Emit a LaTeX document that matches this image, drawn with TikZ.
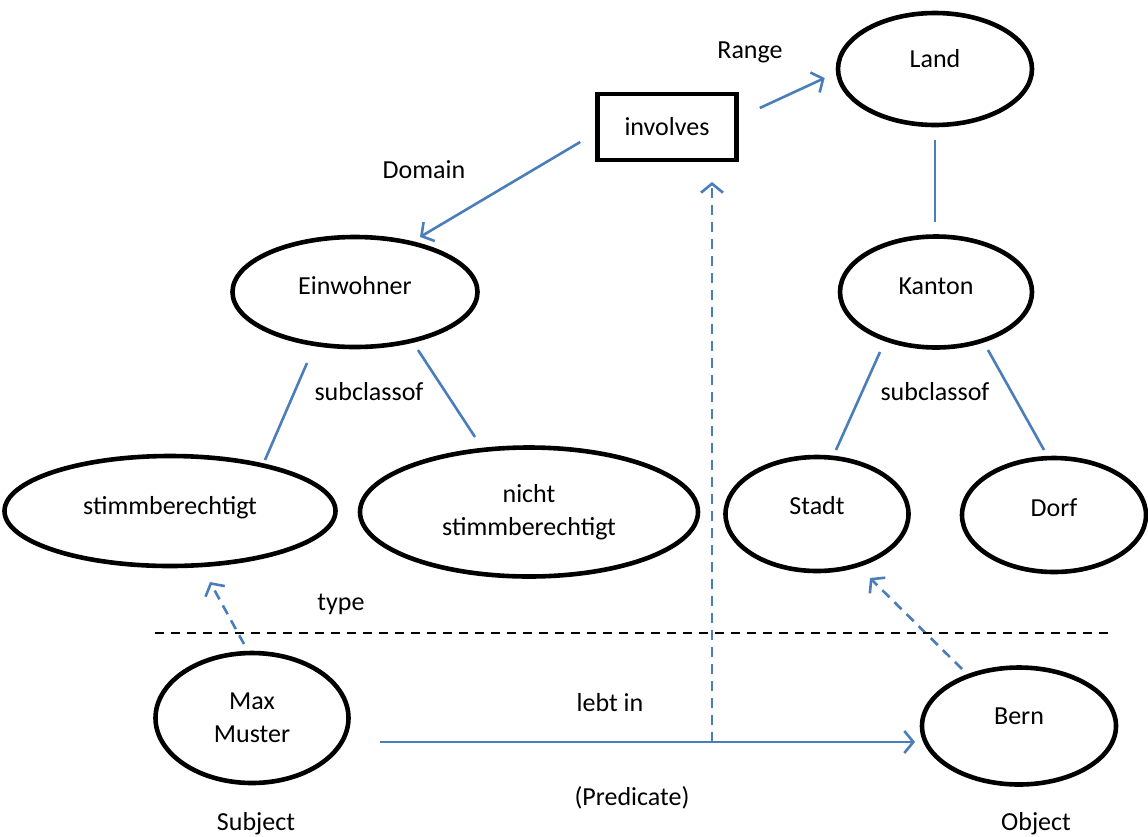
\documentclass[tikz,border=0pt]{standalone}
\usepackage{fontspec}
\setmainfont{Carlito}
\usetikzlibrary{shapes.geometric,arrows.meta}
\definecolor{lblue}{HTML}{4A7EBB}
\begin{document}
\begin{tikzpicture}[x=1pt,y=-1pt,
  every node/.style={font=\fontsize{26}{33}\selectfont},
  ell/.style={ellipse,draw=black,line width=4.6pt,inner sep=0pt,align=center},
  up/.style={text height=17pt,text depth=#1},
  lbl/.style={inner sep=0pt},
  bl/.style={draw=lblue,line width=2.6pt},
  arr/.style={bl,-{Straight Barb[length=9pt,width=22pt,line width=2.6pt]}},
  darr/.style={arr,dash pattern=on 10pt off 7pt}]
\useasboundingbox (0,0) rectangle (1148,836);
% nodes
\node[ell,up=20pt,minimum width=194pt,minimum height=112pt] (land) at (935,69) {Land};
\node[draw=black,line width=4.6pt,minimum width=139pt,minimum height=66pt,inner sep=0pt] (inv) at (667,127) {involves};
\node[ell,up=12pt,minimum width=245pt,minimum height=110pt] (einw) at (355,292) {Einwohner};
\node[ell,up=12pt,minimum width=192pt,minimum height=111pt] (kant) at (936,292) {Kanton};
\node[ell,up=10pt,minimum width=331pt,minimum height=110pt] (stimm) at (170,511) {stimmberechtigt};
\node[ell,minimum width=338pt,minimum height=129pt] (nicht) at (529,512) {nicht\\stimmberechtigt};
\node[ell,up=16pt,minimum width=183pt,minimum height=114pt] (stadt) at (817,514) {Stadt};
\node[ell,up=14pt,minimum width=184pt,minimum height=114pt] (dorf) at (1054,515) {Dorf};
\node[ell,minimum width=193pt,minimum height=130pt] (max) at (252,718) {Max\\Muster};
\node[ell,up=20pt,minimum width=194pt,minimum height=117pt] (bern) at (1019,726) {Bern};
% labels
\node[lbl] (lrange) at (750,52) {Range};
\node[lbl] (ldomain) at (424,170) {Domain};
\node[lbl] (lsub1) at (369,392) {subclassof};
\node[lbl] (lsub2) at (935,392) {subclassof};
\node[lbl] (ltype) at (341,604) {type};
\node[lbl] (llebt) at (610,703) {lebt in};
\node[lbl] (lpred) at (632,798) {(Predicate)};
\node[lbl] (lsubj) at (256,824) {Subject};
\node[lbl] (lobj) at (1036,824) {Object};
% connectors
\draw[arr] ([xshift=-15pt,yshift=-15pt]inv.west) -- ([xshift=65pt,yshift=55pt]einw.center);
\draw[arr] ([xshift=21pt,yshift=19pt]inv.east) -- ([xshift=-11pt,yshift=-9pt]land.west);
\draw[bl] ([yshift=-71pt]land.center) -- ([xshift=-1pt,yshift=70pt]kant.center);
\draw[bl] ([xshift=-48pt,yshift=-71pt]einw.center) -- ([xshift=95pt,yshift=51pt]stimm.center);
\draw[bl] ([xshift=63pt,yshift=-58pt]einw.center) -- ([xshift=-54pt,yshift=75pt]nicht.center);
\draw[bl] ([xshift=-56pt,yshift=-60pt]kant.center) -- ([xshift=19pt,yshift=64pt]stadt.center);
\draw[bl] ([xshift=52pt,yshift=-58pt]kant.center) -- ([xshift=-10pt,yshift=65pt]dorf.center);
\draw[darr] ([xshift=-8pt,yshift=74pt]max.center) -- ([xshift=40pt,yshift=-71pt]stimm.center);
\draw[darr] ([xshift=-57pt,yshift=57pt]bern.center) -- ([xshift=53pt,yshift=-64pt]stadt.center);
\draw[arr] ([xshift=128pt,yshift=-24pt]max.center) -- ([xshift=-104pt,yshift=-16pt]bern.center);
\coordinate (pred) at (712,742);
\draw[darr] (pred) -- ([xshift=45pt,yshift=-55pt]inv.center);
\draw[black,line width=1.8pt,dash pattern=on 9pt off 7pt] (155,633) -- (1112,633);
\end{tikzpicture}
\end{document}
